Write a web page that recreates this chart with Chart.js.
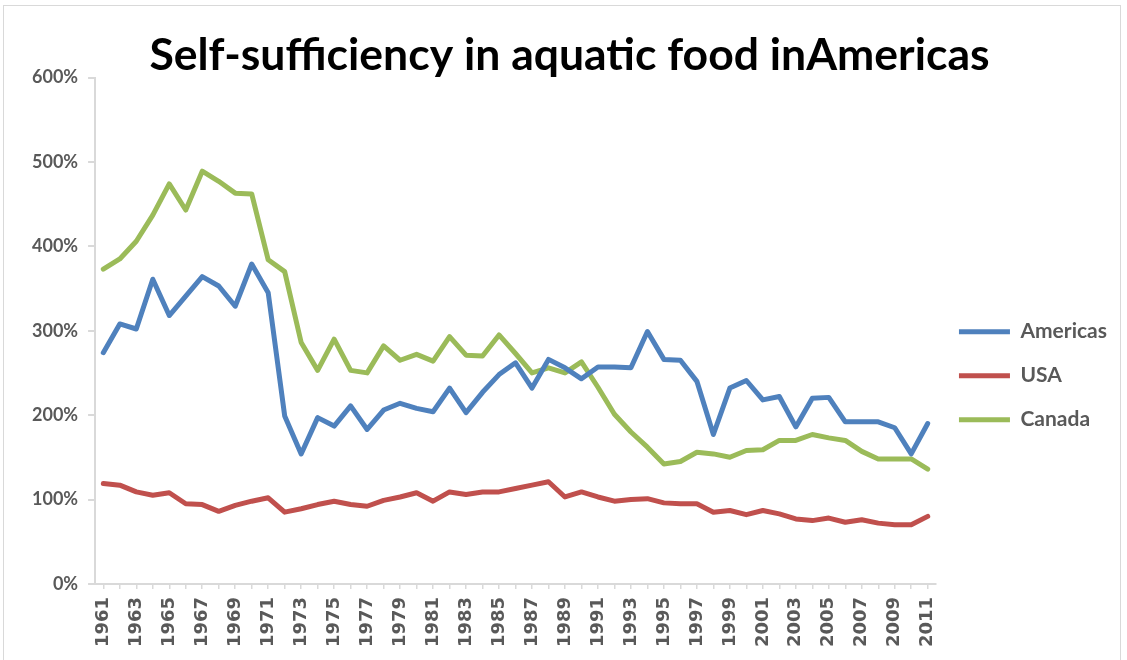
<!DOCTYPE html>
<html>
<head>
<meta charset="utf-8">
<title>Self-sufficiency in aquatic food in Americas</title>
<script src="https://cdn.jsdelivr.net/npm/chart.js@4.4.1/dist/chart.umd.min.js"></script>
<style>
    html, body { margin: 0; padding: 0; background: #ffffff; }
    .chart-box { position: relative; width: 1127px; height: 660px; overflow: hidden; }
    .chart-box canvas { position: absolute; left: 0; top: 0; }
    .frame { position: absolute; left: 3px; top: 5px; right: 6px; bottom: -4px; border: 1px solid #d9d9d9; pointer-events: none; }
</style>
</head>
<body>
<div class="chart-box">
    <canvas id="aquaChart" width="1127" height="660"></canvas>
    <div class="frame"></div>
</div>
<script>
const years = [
    '1961', '1962', '1963', '1964', '1965', '1966', '1967', '1968', '1969', '1970',
    '1971', '1972', '1973', '1974', '1975', '1976', '1977', '1978', '1979', '1980',
    '1981', '1982', '1983', '1984', '1985', '1986', '1987', '1988', '1989', '1990',
    '1991', '1992', '1993', '1994', '1995', '1996', '1997', '1998', '1999', '2000',
    '2001', '2002', '2003', '2004', '2005', '2006', '2007', '2008', '2009', '2010',
    '2011'
];

// values in percent
const americas = [
    274, 308, 302, 361, 318, 341, 364, 353, 329, 379,
    345, 199, 154, 197, 187, 211, 183, 206, 214, 208,
    204, 232, 203, 227, 248, 262, 232, 266, 256, 243,
    257, 257, 256, 299, 266, 265, 240, 177, 232, 241,
    218, 222, 186, 220, 221, 192, 192, 192, 185, 154,
    190
];

const usa = [
    119, 117, 109, 105, 108, 95, 94, 86, 93, 98,
    102, 85, 89, 94, 98, 94, 92, 99, 103, 108,
    98, 109, 106, 109, 109, 113, 117, 121, 103, 109,
    103, 98, 100, 101, 96, 95, 95, 85, 87, 82,
    87, 83, 77, 75, 78, 73, 76, 72, 70, 70,
    80
];

const canada = [
    373, 385, 406, 437, 474, 443, 489, 477, 463, 462,
    384, 370, 286, 253, 290, 253, 250, 282, 265, 272,
    264, 293, 271, 270, 295, 273, 250, 256, 250, 263,
    233, 201, 180, 162, 142, 145, 156, 154, 150, 158,
    159, 170, 170, 177, 173, 170, 157, 148, 148, 148,
    136
];

const seriesNames = ['Americas', 'USA', 'Canada'];
const seriesColors = ['#4f81bd', '#c0504d', '#9bbb59'];
const yMin = 0;
const yMax = 600;
const yStep = 100;

const axisGrey = '#d9d9d9';
const labelGrey = '#595959';

function lineSet(label, data, color) {
    return {
        label: label,
        data: data,
        borderColor: color,
        backgroundColor: color,
        borderWidth: 5,
        borderCapStyle: 'round',
        borderJoinStyle: 'round',
        pointRadius: 0,
        pointHoverRadius: 0,
        tension: 0,
        fill: false
    };
}

document.addEventListener('DOMContentLoaded', () => {
    const canvas = document.getElementById('aquaChart');

    new Chart(canvas, {
        type: 'line',
        data: {
            labels: years,
            datasets: [
                lineSet(seriesNames[0], americas, seriesColors[0]),
                lineSet(seriesNames[1], usa, seriesColors[1]),
                lineSet(seriesNames[2], canada, seriesColors[2])
            ]
        },
        options: {
            responsive: false,
            animation: false,
            devicePixelRatio: 1,
            layout: {
                padding: { left: 22, right: 10, top: 0, bottom: 5 }
            },
            plugins: {
                title: {
                    display: true,
                    text: 'Self-sufficiency in aquatic food inAmericas',
                    color: '#000000',
                    font: { family: 'Lato', size: 44.5, weight: 'bold', lineHeight: 1 },
                    padding: { top: 33, bottom: 0 }
                },
                legend: {
                    position: 'right',
                    fullSize: false,
                    align: 'center',
                    title: {
                        display: true,
                        text: '',
                        font: { size: 10, lineHeight: 1 },
                        padding: { top: 80, bottom: 0 }
                    },
                    labels: {
                        usePointStyle: true,
                        pointStyle: 'line',
                        pointStyleWidth: 51,
                        padding: 23,
                        color: labelGrey,
                        font: { family: 'Lato', size: 21, weight: 'bold' }
                    }
                },
                tooltip: { enabled: false }
            },
            scales: {
                x: {
                    offset: true,
                    grid: {
                        display: true,
                        drawOnChartArea: false,
                        drawTicks: true,
                        tickLength: 5,
                        color: axisGrey,
                        lineWidth: 1.5
                    },
                    border: { display: true, color: axisGrey, width: 2 },
                    ticks: {
                        autoSkip: false,
                        maxRotation: 90,
                        minRotation: 90,
                        padding: 8,
                        color: labelGrey,
                        font: { family: 'DejaVu Sans', size: 18, weight: 'bold' },
                        callback: function (value, index) {
                            return index % 2 === 0 ? years[index] : '';
                        }
                    }
                },
                y: {
                    min: yMin,
                    max: yMax,
                    grid: {
                        display: true,
                        drawOnChartArea: false,
                        drawTicks: true,
                        tickLength: 7,
                        color: axisGrey,
                        lineWidth: 2
                    },
                    border: { display: true, color: axisGrey, width: 2 },
                    ticks: {
                        stepSize: yStep,
                        padding: 10,
                        color: labelGrey,
                        font: { family: 'Lato', size: 18, weight: 'bold' },
                        callback: (value) => value + '%'
                    }
                }
            }
        }
    });
});
</script>
</body>
</html>
